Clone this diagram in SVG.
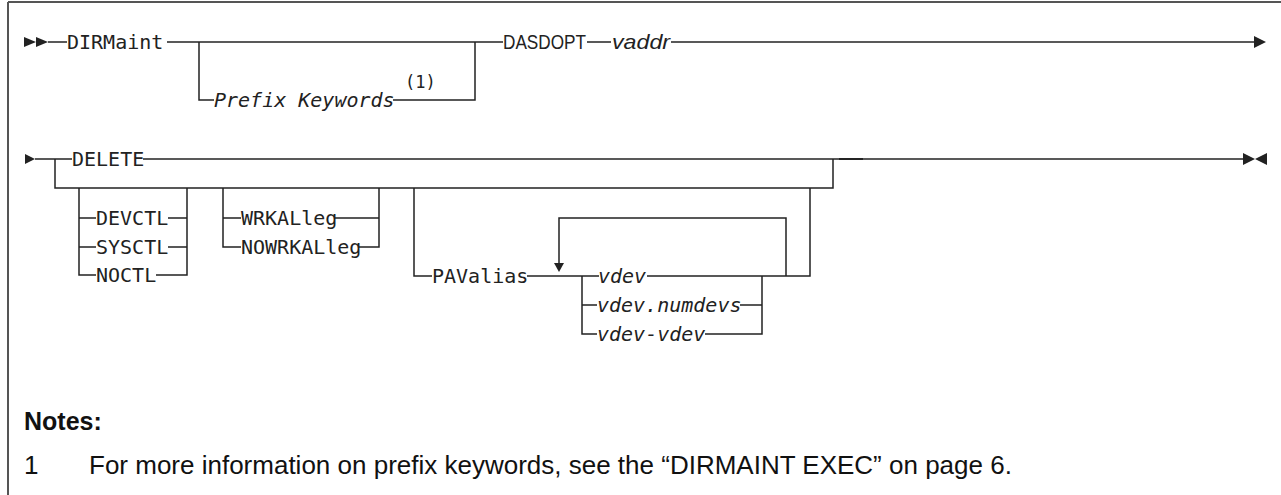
<svg xmlns="http://www.w3.org/2000/svg" width="1281" height="495" viewBox="0 0 1281 495">
<style>
.ln{stroke:#222;stroke-width:1.5;fill:none}
.fr{stroke:#555;stroke-width:2;fill:none}
.ah{fill:#222}
.m{font-family:"DejaVu Sans Mono","Liberation Mono",monospace;font-size:20px;fill:#222}
.mi{font-family:"DejaVu Sans Mono","Liberation Mono",monospace;font-size:20px;font-style:italic;fill:#222}
.fn{font-family:"DejaVu Sans Mono","Liberation Mono",monospace;font-size:17px;fill:#222}
.s{font-family:"Liberation Sans",Arial,sans-serif;font-size:21px;fill:#222}
.si{font-family:"Liberation Sans",Arial,sans-serif;font-size:21px;font-style:italic;fill:#222}
.nb{font-family:"Liberation Sans",Arial,sans-serif;font-size:25px;font-weight:bold;fill:#111}
.nt{font-family:"Liberation Sans",Arial,sans-serif;font-size:26px;fill:#111}
</style>
<rect width="1281" height="495" fill="#fff"/>
<g id="frame">
<line class="fr" x1="8" y1="2" x2="1281" y2="2"/>
<line class="fr" x1="8" y1="2" x2="8" y2="495"/>
</g>
<g id="connectors">
<!-- row 1 -->
<polygon class="ah" points="24,37 36,42 24,47"/>
<polygon class="ah" points="36,37 48,42 36,47"/>
<line class="ln" x1="48" y1="42" x2="67" y2="42"/>
<line class="ln" x1="167" y1="42" x2="503" y2="42"/>
<path class="ln" d="M199,42 V100 H214 M393,100 H475 V42"/>
<line class="ln" x1="587" y1="42" x2="611" y2="42"/>
<line class="ln" x1="671" y1="42" x2="1254" y2="42"/>
<polygon class="ah" points="1254,36 1266,42 1254,48"/>
<!-- row 2 -->
<polygon class="ah" points="25,154 35,159 25,164"/>
<line class="ln" x1="35" y1="159" x2="72" y2="159"/>
<line class="ln" x1="143" y1="159" x2="1243" y2="159"/>
<line x1="839" y1="159" x2="863" y2="159" stroke="#222" stroke-width="1.9"/>
<polygon class="ah" points="1243,153 1255,159 1243,165"/>
<polygon class="ah" points="1267,153 1255,159 1267,165"/>
<path class="ln" d="M55,159 V188 H833 V159"/>
<!-- ctl group -->
<path class="ln" d="M79,188 V275 H96 M79,218 H96 M79,247 H96"/>
<path class="ln" d="M168,218 H187 M168,247 H187 M156,275 H187 V188"/>
<!-- wrkalleg group -->
<path class="ln" d="M223,188 V247 H241 M223,218 H241"/>
<path class="ln" d="M334,218 H379 M359,247 H379 V188"/>
<!-- pavalias group -->
<path class="ln" d="M414,188 V276 H432"/>
<path class="ln" d="M527,276 H599"/>
<path class="ln" d="M582,276 V334 H597 M582,305 H597"/>
<path class="ln" d="M647,276 H810 V188"/>
<path class="ln" d="M740,305 H762 M705,334 H762 V276"/>
<path class="ln" d="M786,276 V218 H559 V264"/>
<polygon class="ah" points="554,263 564,263 559,272"/>
</g>
<g id="n-dirmaint"><text class="m" x="67" y="49">DIRMaint</text></g>
<g id="n-prefix">
<text class="mi" x="214" y="107">Prefix Keywords</text>
<text class="fn" x="405" y="88">(1)</text>
</g>
<g id="n-dasdopt"><text class="s" x="503" y="49" textLength="83" lengthAdjust="spacingAndGlyphs">DASDOPT</text></g>
<g id="n-vaddr"><text class="si" x="612" y="49" textLength="58" lengthAdjust="spacingAndGlyphs">vaddr</text></g>
<g id="n-delete"><text class="m" x="72" y="166">DELETE</text></g>
<g id="n-devctl"><text class="m" x="96" y="225">DEVCTL</text></g>
<g id="n-sysctl"><text class="m" x="96" y="254">SYSCTL</text></g>
<g id="n-noctl"><text class="m" x="96" y="282">NOCTL</text></g>
<g id="n-wrkalleg"><text class="m" x="241" y="225">WRKALleg</text></g>
<g id="n-nowrkalleg"><text class="m" x="241" y="254">NOWRKALleg</text></g>
<g id="n-pavalias"><text class="m" x="432" y="283">PAValias</text></g>
<g id="n-vdev"><text class="mi" x="598" y="283">vdev</text></g>
<g id="n-vdevnum"><text class="mi" x="597" y="312">vdev.numdevs</text></g>
<g id="n-vdevrange"><text class="mi" x="597" y="341">vdev-vdev</text></g>
<g id="notes">
<text class="nb" x="24" y="430">Notes:</text>
<text class="nt" x="24" y="474">1</text>
<text class="nt" x="89" y="474">For more information on prefix keywords, see the “DIRMAINT EXEC” on page 6.</text>
</g>
</svg>
